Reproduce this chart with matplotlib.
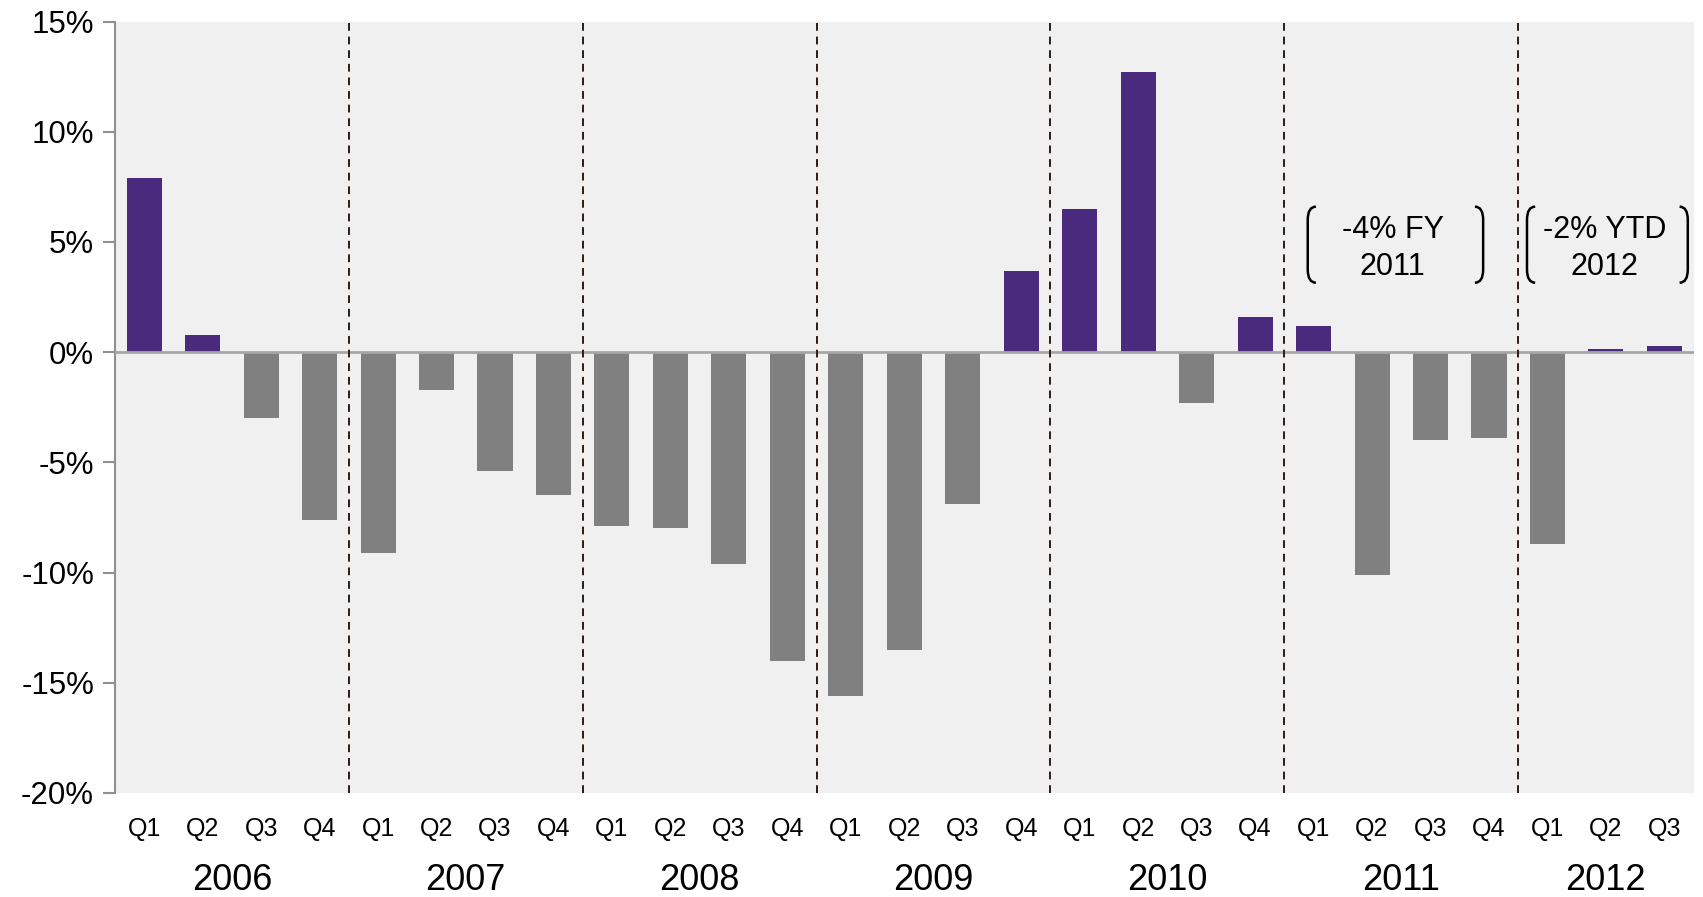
import matplotlib.pyplot as plt
from matplotlib.path import Path
from matplotlib.patches import PathPatch

plt.rcParams['font.family'] = ['Liberation Sans', 'DejaVu Sans']

anos = ['2006', '2007', '2008', '2009', '2010', '2011', '2012']
trimestres = ['Q1', 'Q2', 'Q3', 'Q4'] * 6 + ['Q1', 'Q2', 'Q3']
valores = [7.9, 0.8, -3.0, -7.6,
           -9.1, -1.7, -5.4, -6.5,
           -7.9, -8.0, -9.6, -14.0,
           -15.6, -13.5, -6.9, 3.7,
           6.5, 12.7, -2.3, 1.6,
           1.2, -10.1, -4.0, -3.9,
           -8.7, 0.15, 0.3]
notas = ['-4% FY\n2011', '-2% YTD\n2012']
notas_x = [21.35, 24.98]
colchetes = [(19.9, 22.9), (23.65, 26.4)]

roxo = '#4a2a7c'
cinza = '#808080'

fig = plt.figure(figsize=(17.03, 8.97), dpi=100)
ax = fig.add_axes([0.0675, 0.116, 0.927, 0.86])
ax.set_facecolor('#f0f0f0')

x = list(range(len(valores)))
cores = [roxo if v > 0 else cinza for v in valores]
ax.bar(x, valores, width=0.6, color=cores, zorder=2)

# linha do zero
ax.axhline(0, color='#a6a6a6', linewidth=2, zorder=3)

# separadores de ano
for i in range(1, len(anos)):
    ax.axvline(4 * i - 0.5, color='#2b1d14', linewidth=1.4,
               linestyle=(0, (4, 3)), zorder=4)

ax.set_xlim(-0.5, len(valores) - 0.5)
ax.set_ylim(-20, 15)
ax.set_yticks(range(-20, 16, 5))
ax.set_yticklabels([f'{v}%' for v in range(-20, 16, 5)], fontsize=22.5)
ax.set_xticks(x)
ax.set_xticklabels(trimestres, fontsize=18)
ax.tick_params(axis='x', length=0, pad=17)
ax.tick_params(axis='y', length=9, width=1.5, color='#909090', direction='out', pad=6)

for s in ['top', 'right', 'bottom']:
    ax.spines[s].set_visible(False)
ax.spines['left'].set_color('#909090')
ax.spines['left'].set_linewidth(1.5)

# anos embaixo
for i, ano in enumerate(anos):
    centro = 4 * i + 1.5 if i < 6 else 25
    ax.text(centro, -0.113, ano, transform=ax.get_xaxis_transform(),
            ha='center', va='center', fontsize=26)

# anotações com colchetes
topo, base = 6.6, 3.15
dx, dy = 0.14, 0.6
for nota, nx, (esq, dir_) in zip(notas, notas_x, colchetes):
    ax.text(nx, 4.7, nota, ha='center', va='center',
            fontsize=22, linespacing=1.3, zorder=5)
    for xb, sinal in [(esq, 1), (dir_, -1)]:
        verts = [(xb + sinal * dx, topo), (xb, topo), (xb, topo - dy),
                 (xb, base + dy), (xb, base), (xb + sinal * dx, base)]
        codes = [Path.MOVETO, Path.CURVE3, Path.CURVE3,
                 Path.LINETO, Path.CURVE3, Path.CURVE3]
        ax.add_patch(PathPatch(Path(verts, codes), fill=False,
                               edgecolor='black', linewidth=1.8, zorder=5))

fig.savefig('out.png', dpi=100)
